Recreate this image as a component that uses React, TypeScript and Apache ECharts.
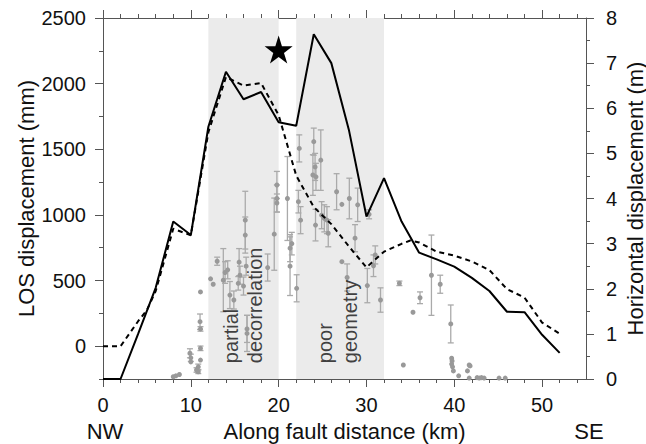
import React, { useEffect, useRef } from "react";
import * as echarts from "echarts";

// Modelled LOS displacement (mm, left axis) - dashed line
const losKm = [0, 2, 4, 5, 6, 8, 10, 12, 14, 16, 18, 20, 22, 24, 26, 28, 30, 32, 34, 35, 36, 38, 40, 42, 44, 46, 48, 50, 52];
const losMm = [0, 0, 190, 275, 420, 895, 845, 1630, 2050, 1985, 2005, 1760, 1300, 1060, 930, 760, 600, 720, 780, 805, 790, 720, 690, 645, 580, 435, 370, 180, 95];

// Horizontal displacement (m, right axis) - solid line
const horKm = [0, 2, 4, 6, 8, 10, 12, 14, 16, 18, 20, 22, 24, 26, 28, 30, 32, 34, 36, 38, 40, 42, 44, 46, 48, 50, 52];
const horM = [0, 0, 1.0, 2.02, 3.49, 3.19, 5.59, 6.81, 6.2, 6.36, 5.69, 5.61, 7.64, 7.0, 5.52, 3.6, 4.45, 3.49, 2.8, 2.65, 2.49, 2.24, 1.95, 1.49, 1.48, 0.98, 0.58];

// Field observations (m, right axis) with error half-widths (m)
const obsKm = [8.0, 8.3, 8.7, 9.9, 10.0, 10.0, 10.65, 10.85, 10.85, 11.1, 11.05, 11.1, 11.1, 11.1, 12.25, 12.55, 13.0, 13.7, 13.9, 14.2, 14.45, 14.9, 15.5, 15.6, 15.4, 16.0, 16.3, 16.2, 16.2, 16.4, 16.4, 18.75, 19.5, 19.8, 19.8, 19.8, 21.0, 21.3, 21.5, 21.3, 22.05, 22.35, 22.25, 22.5, 24.0, 23.9, 24.15, 24.25, 24.8, 24.2, 24.9, 25.2, 25.5, 25.65, 26.6, 27.2, 28.05, 29.0, 28.7, 30.3, 27.2, 27.8, 30.1, 30.8, 31.0, 31.6, 33.75, 34.2, 35.3, 36.1, 37.4, 38.4, 39.6, 39.7, 39.75, 39.7, 39.8, 39.9, 40.5, 41.5, 41.7, 41.8, 41.7, 42.6, 42.85, 43.1, 43.4, 45.1, 45.8];
const obsM = [0.05, 0.07, 0.10, 0.57, 0.47, 0.38, 0.20, 0.27, 0.16, 1.93, 1.27, 1.11, 0.68, 0.42, 2.22, 2.10, 2.61, 2.19, 2.36, 2.42, 1.86, 1.75, 2.59, 2.30, 2.12, 2.06, 2.50, 3.52, 3.19, 1.01, 1.11, 2.47, 3.21, 4.30, 4.0, 3.9, 4.0, 2.9, 3.0, 2.5, 2.01, 5.11, 3.93, 3.52, 5.26, 4.52, 4.70, 4.48, 4.85, 3.41, 3.63, 3.56, 3.52, 3.23, 4.15, 3.87, 4.0, 3.86, 3.12, 3.65, 2.6, 2.25, 2.07, 2.51, 2.75, 1.75, 2.12, 0.31, 1.48, 1.80, 2.30, 2.10, 1.22, 0.46, 0.40, 0.33, 0.27, 0.18, 0.07, 0.18, 0.31, 0.29, 0.02, 0.03, 0.02, 0.03, 0.02, 0.02, 0.02];
const obsErr = [0, 0, 0, 0.10, 0.08, 0, 0.05, 0.06, 0.04, 0, 0.17, 0.05, 0.05, 0, 0, 0, 0.09, 0.70, 0.24, 0.2, 0.3, 0.2, 0.3, 0.2, 0.15, 0.2, 0.2, 0.64, 0.4, 0.4, 0.3, 0.3, 0.8, 0.3, 0.3, 0.2, 0.93, 0.3, 0.25, 0.65, 0.3, 0.3, 0.25, 0.3, 0.3, 0.45, 0.3, 0.3, 0.67, 0.35, 0.3, 0.3, 0.3, 0.3, 0.4, 0, 0.45, 0.37, 0.3, 0.1, 0, 0.3, 0.38, 0.24, 0.2, 0.27, 0.05, 0, 0, 0.13, 0.89, 0.2, 0.42, 0, 0, 0, 0, 0, 0, 0, 0, 0, 0, 0, 0, 0, 0, 0, 0];

// Epicentre star (km, m)
const starPoint = [20, 7.3];

// Shaded zones (km)
const bandRanges = [[12, 20], [22, 32]];

// Zone annotations: [km, m, text]
const annotations: [number, number, string][] = [
  [14.6, 0.35, "partial"],
  [17.3, 0.35, "decorrelation"],
  [25.3, 0.35, "poor"],
  [28.1, 0.35, "geometry"],
];

// Tick values
const xMajor = [0, 10, 20, 30, 40, 50];
const xMinor = [2, 4, 6, 8, 12, 14, 16, 18, 22, 24, 26, 28, 32, 34, 36, 38, 42, 44, 46, 48, 52, 54];
const losMajor = [0, 500, 1000, 1500, 2000, 2500];
const losMinor = [-250, 250, 750, 1250, 1750, 2250];

const FONT = "'Liberation Sans', Arial, Helvetica, sans-serif";
const AXIS_COLOR = "#555";

export default function App() {
  const ref = useRef<HTMLDivElement>(null);

  useEffect(() => {
    if (!ref.current) return;
    const chart = echarts.init(ref.current, undefined, { renderer: "svg" });

    const tickStyle = { color: AXIS_COLOR, width: 1 };
    const lineStyle = { color: AXIS_COLOR, width: 1 };
    const plain = (v: number) => String(v);

    const xAxes: any[] = [
      {
        type: "value", min: 0, max: 55, position: "bottom",
        axisLine: { show: true, onZero: false, lineStyle },
        axisTick: { show: true, inside: false, length: 8, customValues: xMajor, lineStyle: tickStyle },
        axisLabel: { customValues: xMajor, fontSize: 20, color: "#111", margin: 16, fontFamily: FONT, formatter: plain },
        splitLine: { show: false },
        name: "Along fault distance (km)", nameLocation: "middle", nameGap: 41, nameMoveOverlap: false,
        nameTextStyle: { fontSize: 22, color: "#111", fontFamily: FONT },
      },
      {
        type: "value", min: 0, max: 55, position: "bottom",
        axisLine: { show: false, onZero: false },
        axisTick: { show: true, inside: false, length: 4, customValues: xMinor, lineStyle: tickStyle },
        axisLabel: { show: false }, splitLine: { show: false },
      },
      {
        type: "value", min: 0, max: 55, position: "top",
        axisLine: { show: true, onZero: false, lineStyle },
        axisTick: { show: true, inside: false, length: 8, customValues: xMajor, lineStyle: tickStyle },
        axisLabel: { show: false }, splitLine: { show: false },
      },
      {
        type: "value", min: 0, max: 55, position: "top",
        axisLine: { show: false, onZero: false },
        axisTick: { show: true, inside: false, length: 4, customValues: xMinor, lineStyle: tickStyle },
        axisLabel: { show: false }, splitLine: { show: false },
      },
    ];

    const yAxes: any[] = [
      {
        type: "value", min: -250, max: 2500, position: "left",
        axisLine: { show: true, onZero: false, lineStyle },
        axisTick: { show: true, inside: false, length: 8, customValues: losMajor, lineStyle: tickStyle },
        axisLabel: { customValues: losMajor, fontSize: 20, color: "#111", margin: 17, fontFamily: FONT, formatter: plain },
        splitLine: { show: false },
        name: "LOS displacement (mm)", nameLocation: "middle", nameGap: 66, nameMoveOverlap: false,
        nameTextStyle: { fontSize: 22, color: "#111", fontFamily: FONT },
      },
      {
        type: "value", min: 0, max: 8, interval: 1, position: "right",
        axisLine: { show: true, onZero: false, lineStyle },
        axisTick: { show: true, inside: false, length: 8, lineStyle: tickStyle },
        minorTick: { show: true, splitNumber: 2, length: 4, lineStyle: tickStyle },
        axisLabel: { fontSize: 20, color: "#111", margin: 20, fontFamily: FONT, formatter: plain },
        splitLine: { show: false }, minorSplitLine: { show: false },
        name: "Horizontal displacement (m)", nameLocation: "middle", nameGap: 38, nameMoveOverlap: false,
        nameTextStyle: { fontSize: 22, color: "#111", fontFamily: FONT },
      },
      {
        type: "value", min: -250, max: 2500, position: "left",
        axisLine: { show: false, onZero: false },
        axisTick: { show: true, inside: false, length: 4, customValues: losMinor, lineStyle: tickStyle },
        axisLabel: { show: false }, splitLine: { show: false },
      },
    ];

    const obsData = obsKm.map((k, i) => [k, obsM[i], obsErr[i]]);

    chart.setOption({
      animation: false,
      textStyle: { fontFamily: FONT },
      grid: { left: 103, right: 60, top: 18, bottom: 65, containLabel: false, outerBoundsMode: "none" },
      xAxis: xAxes,
      yAxis: yAxes,
      series: [
        {
          type: "line", xAxisIndex: 0, yAxisIndex: 1, data: [], z: 0, silent: true,
          markArea: {
            silent: true,
            itemStyle: { color: "#ebebeb" },
            data: bandRanges.map(([a, b]) => [{ xAxis: a }, { xAxis: b }]),
          },
        },
        {
          type: "custom", xAxisIndex: 0, yAxisIndex: 1, z: 3, silent: true,
          data: obsData,
          encode: { x: 0, y: 1 },
          renderItem: (params: any, api: any) => {
            const x = api.value(0), y = api.value(1), e = api.value(2);
            if (!e) return { type: "group", children: [] };
            const top = api.coord([x, y + e]);
            const bot = api.coord([x, y - e]);
            const cap = 3;
            const st = { stroke: "#aaa", lineWidth: 1.3 };
            return {
              type: "group",
              children: [
                { type: "line", shape: { x1: top[0], y1: top[1], x2: bot[0], y2: bot[1] }, style: st },
                { type: "line", shape: { x1: top[0] - cap, y1: top[1], x2: top[0] + cap, y2: top[1] }, style: st },
                { type: "line", shape: { x1: bot[0] - cap, y1: bot[1], x2: bot[0] + cap, y2: bot[1] }, style: st },
              ],
            };
          },
        },
        {
          type: "scatter", xAxisIndex: 0, yAxisIndex: 1, z: 4, silent: true,
          data: obsData.map((d) => [d[0], d[1]]),
          symbol: "circle", symbolSize: 5,
          itemStyle: { color: "#999", opacity: 1 },
        },
        {
          type: "scatter", xAxisIndex: 0, yAxisIndex: 1, z: 8, silent: true,
          symbolSize: 0,
          data: annotations.map(([k, m, t]) => ({ value: [k, m], name: t })),
          label: {
            show: true, position: "inside", rotate: 90, align: "left", verticalAlign: "middle",
            formatter: (p: any) => p.name, fontSize: 20, color: "#111", fontFamily: FONT,
          },
        },
        {
          type: "line", xAxisIndex: 0, yAxisIndex: 0, z: 5, silent: true,
          data: losKm.map((k, i) => [k, losMm[i]]),
          showSymbol: false, symbol: "none",
          lineStyle: { color: "#000", width: 2, type: [5, 4] },
        },
        {
          type: "line", xAxisIndex: 0, yAxisIndex: 1, z: 6, silent: true,
          data: horKm.map((k, i) => [k, horM[i]]),
          showSymbol: false, symbol: "none",
          lineStyle: { color: "#000", width: 2 },
        },
        {
          type: "scatter", xAxisIndex: 0, yAxisIndex: 1, z: 7, silent: true,
          data: [starPoint],
          symbol: "path://M50,0 L61.2,34.5 L97.6,34.5 L68.2,55.9 L79.4,90.5 L50,69.1 L20.6,90.5 L31.8,55.9 L2.4,34.5 L38.8,34.5 Z",
          symbolSize: 28,
          itemStyle: { color: "#000", opacity: 1 },
        },
      ],
    });

    const nw = chart.convertToPixel({ xAxisIndex: 0, yAxisIndex: 1 } as any, [0, 0]) as number[];
    const se = chart.convertToPixel({ xAxisIndex: 0, yAxisIndex: 1 } as any, [55, 0]) as number[];
    chart.setOption({
      graphic: [
        {
          type: "text", x: nw[0] + 2, y: nw[1] + 52, silent: true,
          style: { text: "NW", fontSize: 22, fontFamily: FONT, fill: "#111", textAlign: "center", textVerticalAlign: "middle" },
        },
        {
          type: "text", x: se[0] + 3, y: se[1] + 52, silent: true,
          style: { text: "SE", fontSize: 22, fontFamily: FONT, fill: "#111", textAlign: "center", textVerticalAlign: "middle" },
        },
      ],
    });

    return () => chart.dispose();
  }, []);

  return (
    <div
      ref={ref}
      style={{ position: "fixed", left: 0, top: 0, width: 646, height: 444, background: "#fff" }}
    />
  );
}
